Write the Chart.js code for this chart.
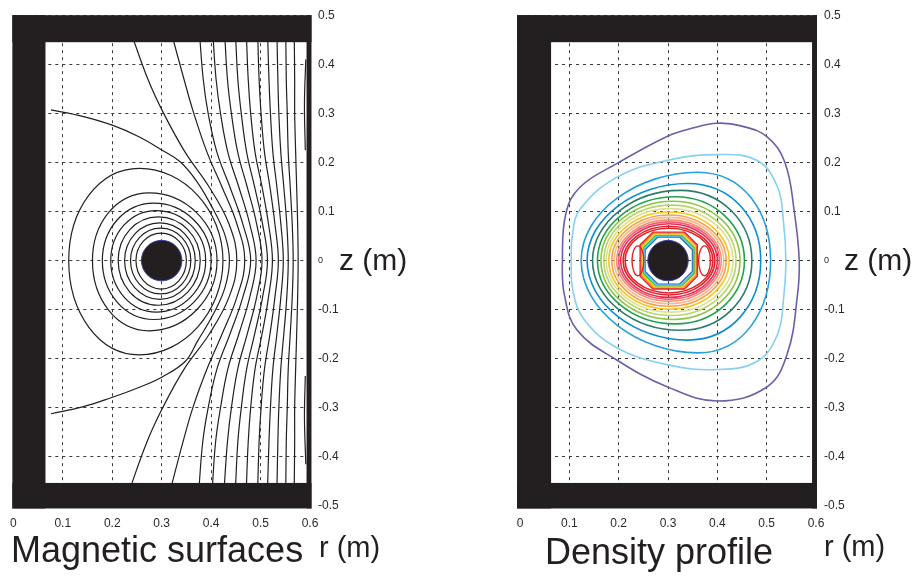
<!DOCTYPE html>
<html>
<head>
<meta charset="utf-8">
<script src="https://cdn.jsdelivr.net/npm/chart.js@4.4.1/dist/chart.umd.min.js"></script>
<style>
  html, body { margin: 0; padding: 0; background: #fff; }
  #wrap { position: relative; width: 915px; height: 577px; overflow: hidden;
          font-family: "Liberation Sans", Arial, Helvetica, sans-serif; color: #231f20; }
  .pane { position: absolute; top: 0; width: 457px; height: 577px; }
  .lbl { position: absolute; white-space: nowrap; line-height: 1; }
</style>
</head>
<body>
<div id="wrap">
  <div class="pane" style="left:0"><canvas id="mag" width="457" height="577"></canvas></div>
  <div class="pane" style="left:458px"><canvas id="dens" width="457" height="577"></canvas></div>
  <div class="lbl" style="left:11px;top:532px;font-size:36px">Magnetic surfaces</div>
  <div class="lbl" style="left:319px;top:533px;font-size:29px">r (m)</div>
  <div class="lbl" style="left:339px;top:245px;font-size:30px">z (m)</div>
  <div class="lbl" style="left:545px;top:534px;font-size:36px">Density profile</div>
  <div class="lbl" style="left:824px;top:532px;font-size:29px">r (m)</div>
  <div class="lbl" style="left:844px;top:245px;font-size:30px">z (m)</div>
</div>
<script>
const FONT = '"Liberation Sans", Arial, Helvetica, sans-serif';
const INK = '#231f20';

// ---- axes (metres) ----
const rTicks = [0, 0.1, 0.2, 0.3, 0.4, 0.5, 0.6];
const zTicks = [-0.5, -0.4, -0.3, -0.2, -0.1, 0, 0.1, 0.2, 0.3, 0.4, 0.5];

// ---- magnetic surfaces: closed flux rings around the conductor ----
const ringInnerR = [0.248, 0.237, 0.225, 0.212, 0.197, 0.180, 0.160, 0.112];
const ringOuterR = [0.350, 0.359, 0.368, 0.378, 0.389, 0.400, 0.412, 0.424];
const ringTopZ   = [0.056, 0.066, 0.077, 0.089, 0.102, 0.117, 0.138, 0.188];
const ringBotZ   = [-0.058, -0.068, -0.079, -0.091, -0.105, -0.120, -0.143, -0.192];
const ringApexR  = [0.299, 0.298, 0.296, 0.293, 0.289, 0.284, 0.275, 0.255];

// separatrix: leaves the inner wall above, wraps the rings, returns below
const separatrix = [
  [0.076, 0.307], [0.140, 0.294], [0.200, 0.276], [0.255, 0.252], [0.301, 0.225],
  [0.338, 0.201], [0.372, 0.160], [0.404, 0.105], [0.428, 0.052], [0.437, 0.0],
  [0.428, -0.055], [0.404, -0.110], [0.372, -0.165], [0.348, -0.205], [0.301, -0.237],
  [0.255, -0.258], [0.196, -0.280], [0.140, -0.298], [0.076, -0.312]
];

// open field lines, r sampled at these heights
const fieldLineZ = [0.47, 0.37, 0.30, 0.22, 0.15, 0.075, 0, -0.075, -0.15, -0.22, -0.30, -0.37, -0.47];
const fieldLines = [
  [0.236, 0.272, 0.304, 0.348, 0.396, 0.436, 0.452, 0.436, 0.396, 0.346, 0.302, 0.270, 0.234],
  [0.318, 0.345, 0.365, 0.392, 0.422, 0.452, 0.468, 0.452, 0.422, 0.392, 0.363, 0.343, 0.317],
  [0.376, 0.384, 0.394, 0.412, 0.438, 0.464, 0.480, 0.464, 0.438, 0.412, 0.394, 0.383, 0.375],
  [0.403, 0.410, 0.419, 0.434, 0.456, 0.478, 0.491, 0.478, 0.456, 0.434, 0.419, 0.409, 0.402],
  [0.427, 0.433, 0.441, 0.454, 0.473, 0.492, 0.503, 0.492, 0.473, 0.454, 0.441, 0.433, 0.426],
  [0.449, 0.454, 0.461, 0.472, 0.488, 0.504, 0.514, 0.504, 0.488, 0.472, 0.461, 0.454, 0.449],
  [0.471, 0.475, 0.480, 0.489, 0.503, 0.516, 0.524, 0.516, 0.503, 0.489, 0.480, 0.475, 0.471],
  [0.494, 0.497, 0.501, 0.508, 0.519, 0.529, 0.536, 0.529, 0.519, 0.508, 0.501, 0.497, 0.494],
  [0.514, 0.517, 0.520, 0.525, 0.533, 0.541, 0.546, 0.541, 0.533, 0.525, 0.520, 0.517, 0.514],
  [0.533, 0.535, 0.537, 0.541, 0.547, 0.553, 0.556, 0.553, 0.547, 0.541, 0.537, 0.535, 0.533],
  [0.551, 0.552, 0.554, 0.556, 0.560, 0.564, 0.566, 0.564, 0.560, 0.556, 0.554, 0.552, 0.551],
  [0.568, 0.569, 0.569, 0.571, 0.573, 0.575, 0.576, 0.575, 0.573, 0.571, 0.569, 0.569, 0.568]
];
// short contours hugging the outer wall
const wallContours = [
  [[0.5915, 0.41], [0.5888, 0.32], [0.5905, 0.225]],
  [[0.5905, -0.235], [0.5888, -0.32], [0.5915, -0.415]]
];

// ---- density profile ----
const densityOuter = [
  { color: '#6c5fa8', pts: [[0.566, 0], [0.556, 0.100], [0.537, 0.200], [0.501, 0.252], [0.450, 0.274], [0.400, 0.280],
      [0.350, 0.270], [0.298, 0.253], [0.197, 0.198], [0.122, 0.150], [0.093, 0.096], [0.086, 0.0], [0.090, -0.070],
      [0.116, -0.142], [0.197, -0.203], [0.298, -0.257], [0.400, -0.286], [0.501, -0.257], [0.542, -0.189], [0.562, -0.074]] },
  { color: '#86d1f1', pts: [[0.539, 0], [0.534, 0.080], [0.522, 0.150], [0.481, 0.204], [0.400, 0.216], [0.298, 0.204],
      [0.197, 0.170], [0.122, 0.105], [0.106, 0.050], [0.104, 0.0], [0.107, -0.060], [0.130, -0.120], [0.197, -0.178],
      [0.298, -0.212], [0.400, -0.222], [0.481, -0.205], [0.522, -0.150], [0.535, -0.070]] }
];
const densityColors = ['#27a0dc', '#0b8fd0', '#2d7d6c', '#20a34c', '#8dc63f', '#b8d56d', '#dbe190', '#f8c51c',
                       '#f5a04a', '#f8bb8f', '#f2906f', '#ef5e7a', '#ea2d55', '#e3242b', '#e3242b'];
const densityInnerR = [0.124, 0.136, 0.147, 0.157, 0.164, 0.170, 0.175, 0.180, 0.186, 0.191, 0.196, 0.200, 0.204, 0.209, 0.213];
const densityOuterR = [0.508, 0.488, 0.470, 0.455, 0.446, 0.438, 0.432, 0.424, 0.418, 0.413, 0.408, 0.404, 0.400, 0.395, 0.391];
const densityTopZ   = [0.180, 0.157, 0.143, 0.130, 0.121, 0.113, 0.106, 0.099, 0.093, 0.088, 0.083, 0.079, 0.075, 0.070, 0.066];
const densityBotZ   = [-0.188, -0.162, -0.142, -0.129, -0.120, -0.112, -0.105, -0.099, -0.093, -0.088, -0.083, -0.079, -0.075, -0.070, -0.066];
const densityApexR  = [0.360, 0.340, 0.325, 0.315, 0.310, 0.307, 0.305, 0.303, 0.302, 0.302, 0.302, 0.302, 0.302, 0.302, 0.302];
// small red islands either side of the conductor
const densityIslands = [
  [[0.251, 0], [0.239, 0.030], [0.227, 0], [0.239, -0.031]],
  [[0.386, 0], [0.374, 0.030], [0.362, 0], [0.374, -0.031]]
];
// stepped band of contours packed against the conductor
const bandHalf   = [0.058, 0.056, 0.054, 0.052, 0.050, 0.048];
const bandColors = ['#e4262b', '#f58a1f', '#f9d31c', '#40b64a', '#4ec3ef', '#2b66b8'];
const bandChamfer = 0.026;
const bandCentre = [0.3015, 0];

// ---- vessel ----
const magWalls  = [[-0.002, 0.065, -0.505, 0.5], [-0.002, 0.603, 0.445, 0.5], [-0.002, 0.603, -0.505, -0.453], [0.593, 0.603, -0.505, 0.5]];
const densWalls = [[-0.006, 0.063, -0.505, 0.5], [-0.006, 0.602, 0.445, 0.5], [-0.006, 0.602, -0.505, -0.453], [0.592, 0.602, -0.505, 0.5]];
const conductor = { r: 0.3, z: 0, radius: 0.041 };

function curve(pts, color, width, closed, tension) {
  return {
    data: pts.map(p => ({ x: p[0], y: p[1] })),
    showLine: true, borderColor: color, borderWidth: width,
    pointRadius: 0, pointHoverRadius: 0, fill: false,
    tension: tension, closed: closed
  };
}

// closed contours: let the line element wrap its spline round to the first point
const closeLoops = {
  id: 'closeLoops',
  afterDatasetUpdate(chart, args) {
    const ds = chart.data.datasets[args.index];
    const line = args.meta.dataset;
    if (ds.closed && line) { line._loop = true; line._fullLoop = true; }
  }
};

function vessel(walls) {
  return {
    id: 'vessel',
    afterDatasetsDraw(chart) {
      const { ctx, scales: { x, y } } = chart;
      ctx.save();
      ctx.fillStyle = INK;
      walls.forEach(([r0, r1, z0, z1]) => {
        const x0 = x.getPixelForValue(r0), x1 = x.getPixelForValue(r1);
        const y0 = y.getPixelForValue(z1), y1 = y.getPixelForValue(z0);
        ctx.fillRect(x0, y0, x1 - x0, y1 - y0);
      });
      const cx = x.getPixelForValue(conductor.r), cy = y.getPixelForValue(conductor.z);
      const rad = x.getPixelForValue(conductor.r + conductor.radius) - cx;
      ctx.beginPath();
      ctx.arc(cx, cy, rad, 0, Math.PI * 2);
      ctx.fill();
      ctx.strokeStyle = '#3d3f9c';
      ctx.lineWidth = 1;
      ctx.stroke();
      ctx.restore();
    }
  };
}

function options(padLeft, yWidth) {
  const grid = { color: '#3a3a3a', lineWidth: 1, drawTicks: false };
  const border = { display: false, dash: [3, 4] };
  return {
    responsive: false, animation: false, events: [],
    layout: { padding: { left: padLeft, top: 15, right: 0, bottom: 0 } },
    plugins: { legend: { display: false }, tooltip: { enabled: false } },
    scales: {
      x: {
        type: 'linear', min: 0, max: 0.6,
        afterBuildTicks: s => { s.ticks = rTicks.map(v => ({ value: v })); },
        afterFit: s => { s.height = 71; },
        grid: grid, border: border,
        ticks: { padding: 10, color: '#2a2a2a', autoSkip: false, maxRotation: 0,
                 font: { family: FONT, size: 12 }, callback: v => String(v) }
      },
      y: {
        type: 'linear', position: 'right', min: -0.5, max: 0.5,
        afterBuildTicks: s => { s.ticks = zTicks.map(v => ({ value: v })); },
        afterFit: s => { s.width = yWidth; },
        grid: grid, border: border,
        ticks: { padding: 8, color: '#2a2a2a', autoSkip: false,
                 font: c => ({ family: FONT, size: (c.tick && c.tick.value === 0) ? 9 : 12 }),
                 callback: v => String(v) }
      }
    }
  };
}

// magnetic surfaces datasets
const magSets = [];
ringInnerR.forEach((rin, i) => {
  const pts = [[ringOuterR[i], 0], [ringApexR[i], ringTopZ[i]], [rin, 0], [ringApexR[i], ringBotZ[i]]];
  magSets.push(curve(pts, INK, 1.2, true, 0.55));
});
magSets.push(curve(separatrix, INK, 1.2, false, 0.4));
fieldLines.forEach(rs => {
  magSets.push(curve(rs.map((r, k) => [r, fieldLineZ[k]]), INK, 1.2, false, 0.4));
});
wallContours.forEach(p => magSets.push(curve(p, INK, 1.2, false, 0.4)));

// density datasets
const densSets = [];
densityOuter.forEach(c => densSets.push(curve(c.pts, c.color, 1.6, true, 0.4)));
densityColors.forEach((col, i) => {
  const pts = [[densityOuterR[i], 0], [densityApexR[i], densityTopZ[i]], [densityInnerR[i], 0], [densityApexR[i], densityBotZ[i]]];
  densSets.push(curve(pts, col, 1.6, true, 0.55));
});
densityIslands.forEach(p => densSets.push(curve(p, '#e3242b', 1.4, true, 0.55)));
bandHalf.forEach((h, i) => {
  const [cr, cz] = bandCentre, k = bandChamfer;
  const pts = [[cr - h + k, cz + h], [cr + h - k, cz + h], [cr + h, cz + h - k], [cr + h, cz - h + k],
               [cr + h - k, cz - h], [cr - h + k, cz - h], [cr - h, cz - h + k], [cr - h, cz + h - k]];
  densSets.push(curve(pts, bandColors[i], 1.4, true, 0));
});

new Chart(document.getElementById('mag'), {
  type: 'scatter',
  data: { datasets: magSets },
  options: options(13, 147),
  plugins: [closeLoops, vessel(magWalls)]
});
new Chart(document.getElementById('dens'), {
  type: 'scatter',
  data: { datasets: densSets },
  options: options(62, 99),
  plugins: [closeLoops, vessel(densWalls)]
});
</script>
</body>
</html>
